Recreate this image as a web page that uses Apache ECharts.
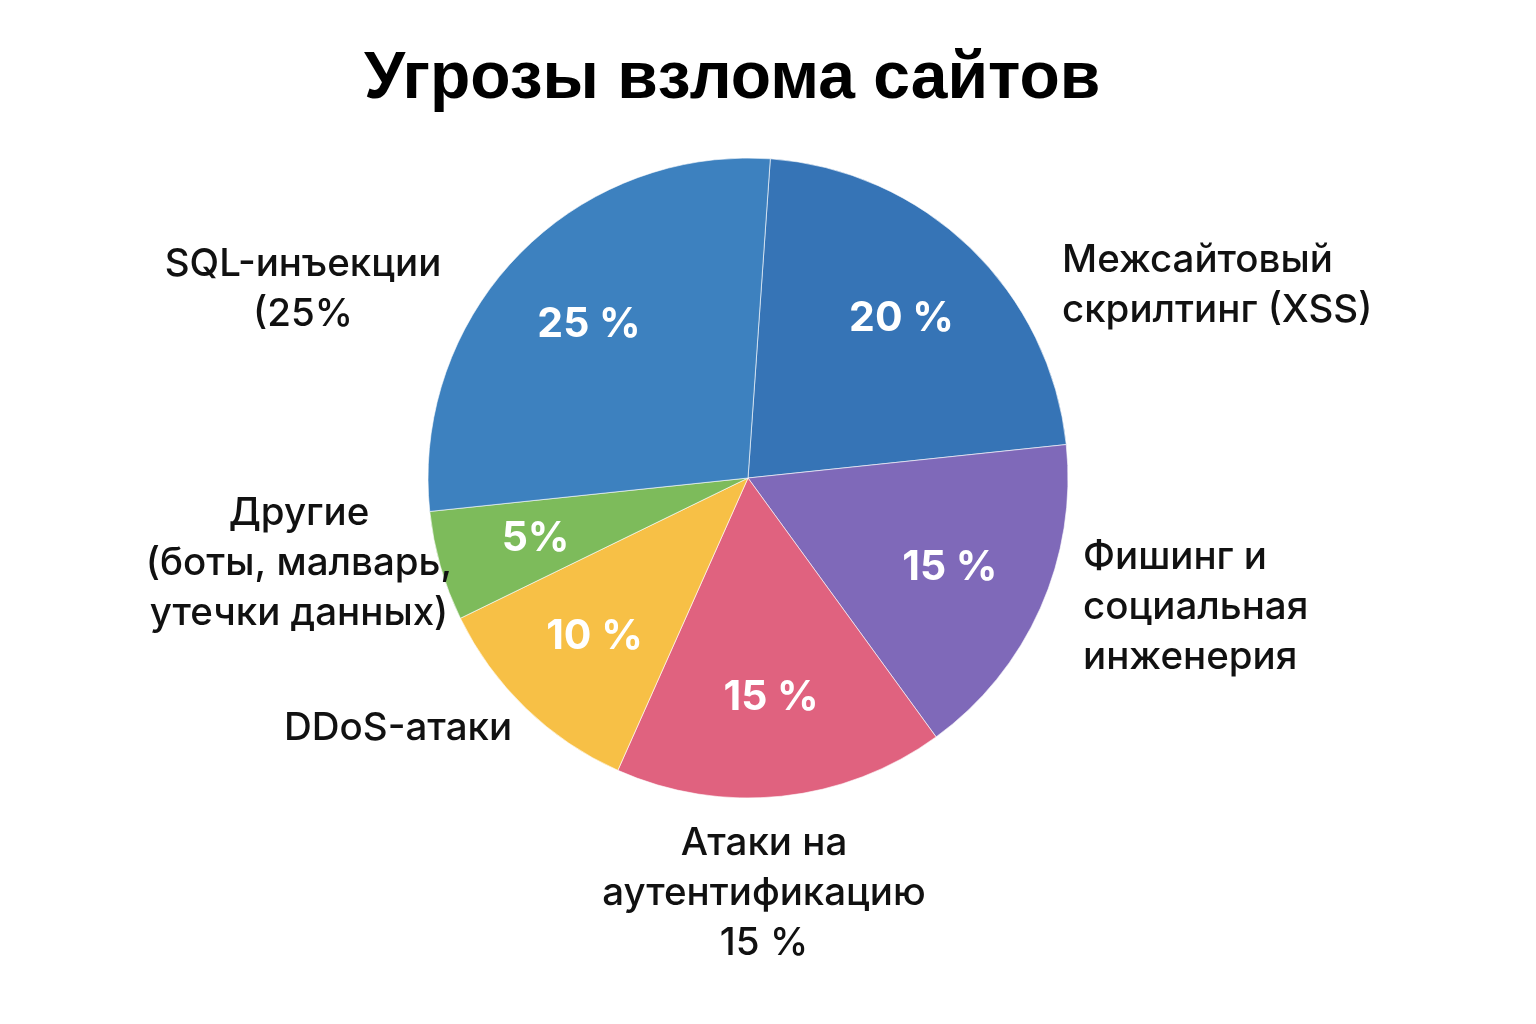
<!DOCTYPE html>
<html>
<head>
<meta charset="utf-8">
<script src="https://cdn.jsdelivr.net/npm/echarts@6/dist/echarts.min.js"></script>
<style>html,body{margin:0;padding:0;background:#fff}#c{width:1536px;height:1024px}</style>
</head>
<body>
<div id="c"></div>
<script>
const titleText = 'Угрозы взлома сайтов';
const categories = [
  'Межсайтовый\nскрилтинг (XSS)',
  'Фишинг и\nсоциальная\nинженерия',
  'Атаки на\nаутентификацию\n15 %',
  'DDoS-атаки',
  'Другие\n(боты, малварь,\nутечки данных)',
  'SQL-инъекции\n(25%'
];
const values = [20, 15, 15, 10, 5, 25];
const pctLabels = ['20 %', '15 %', '15 %', '10 %', '5%', '25 %'];
const colors = ['#3674b6', '#7f69b9', '#e0627f', '#f7c046', '#7dbb5b', '#3d81bf'];

// outer label placement (layout only)
const outerPos = [
  {x: 1062, y: 285, align: 'left'},
  {x: 1083, y: 607, align: 'left'},
  {x: 764, y: 893, align: 'center'},
  {x: 398, y: 728, align: 'center'},
  {x: 299, y: 563, align: 'center'},
  {x: 303, y: 289, align: 'center'}
];

const chart = echarts.init(document.getElementById('c'), null, {renderer: 'canvas'});
const data = categories.map((n, i) => ({name: n, value: values[i], itemStyle: {color: colors[i]}}));
chart.setOption({
  backgroundColor: '#ffffff',
  animation: false,
  title: {
    text: titleText,
    left: 359, top: 40,
    textStyle: {fontFamily: 'Liberation Sans', fontWeight: 'bold', fontSize: 66, color: '#000', lineHeight: 70}
  },
  series: [
    {
      type: 'pie',
      center: [748, 478],
      radius: [0, 320],
      startAngle: 86,
      clockwise: true,
      avoidLabelOverlap: false,
      silent: true,
      itemStyle: {borderColor: 'rgba(255,255,255,0.6)', borderWidth: 1},
      label: {
        show: true, position: 'outside',
        formatter: p => p.name,
        fontFamily: 'Inter', fontSize: 38.5, fontWeight: 500, color: '#111', lineHeight: 50
      },
      labelLine: {show: false},
      labelLayout: p => {
        const o = outerPos[p.dataIndex];
        return {x: o.x, y: o.y, align: o.align, verticalAlign: 'middle'};
      },
      data: data
    },
    {
      type: 'pie',
      center: [748, 478],
      radius: [0, 436],
      startAngle: 86,
      clockwise: true,
      silent: true,
      avoidLabelOverlap: false,
      itemStyle: {color: 'rgba(0,0,0,0)'},
      label: {
        show: true, position: 'inside',
        formatter: p => pctLabels[p.dataIndex],
        fontFamily: 'Inter', fontSize: 41, fontWeight: 'bold', color: '#fff'
      },
      labelLine: {show: false},
      data: categories.map((n, i) => ({name: n, value: values[i]}))
    }
  ]
});
</script>
</body>
</html>
